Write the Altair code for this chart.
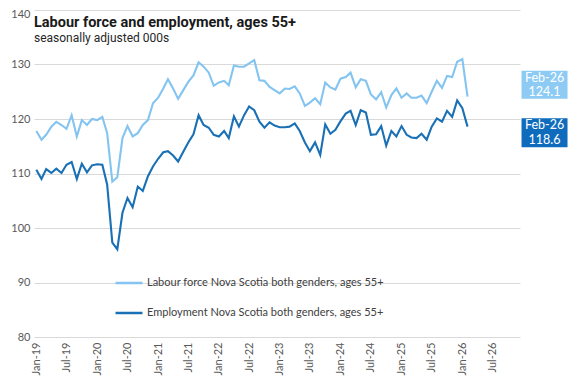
import altair as alt
import pandas as pd

# ---- data (monthly, Jan-2019 .. Feb-2026) ----
start_month = "2019-01-01"
series_names = ["Labour force Nova Scotia both genders, ages 55+",
                "Employment Nova Scotia both genders, ages 55+"]

labour_force = [
    117.8, 116.2, 117.1, 118.6, 119.5, 118.9, 118.2, 120.7, 116.8, 119.8, 118.9, 120.0,
    119.8, 120.4, 117.4, 108.5, 109.3, 116.5, 118.7, 116.8, 117.4, 118.9, 119.8, 122.9,
    123.9, 125.6, 127.3, 125.6, 123.7, 125.3, 126.8, 128.0, 130.4, 129.6, 128.5, 126.1,
    126.7, 127.0, 126.2, 129.8, 129.6, 129.6, 130.2, 130.8, 127.1, 127.0, 125.9, 125.3,
    124.7, 125.6, 125.5, 126.0, 124.7, 122.4, 123.0, 123.8, 122.7, 126.7, 125.8, 125.4,
    127.4, 127.7, 128.5, 125.8, 127.3, 127.0, 124.5, 123.6, 124.9, 122.1, 124.4, 125.6,
    123.9, 124.7, 123.9, 123.9, 124.3, 122.9, 125.0, 127.0, 125.7, 127.9, 127.7, 130.5,
    131.0, 124.1,
]
employment = [
    110.7, 109.0, 110.8, 110.1, 110.9, 110.1, 111.6, 112.1, 109.0, 111.8, 110.2, 111.5,
    111.7, 111.6, 108.0, 97.3, 96.1, 102.8, 105.5, 103.8, 107.6, 106.8, 109.5, 111.3,
    112.7, 113.9, 114.1, 113.3, 112.2, 114.0, 115.7, 117.2, 120.7, 118.9, 118.4, 117.1,
    116.8, 117.8, 116.5, 120.5, 118.6, 120.7, 122.3, 121.6, 119.5, 118.4, 119.4, 118.8,
    118.5, 118.5, 118.6, 119.2, 117.8, 115.7, 114.1, 115.7, 113.4, 119.0, 117.3, 118.0,
    119.6, 121.0, 121.5, 118.9, 121.6, 121.2, 117.1, 117.2, 118.7, 115.1, 117.8, 116.8,
    118.7, 117.1, 116.6, 116.5, 117.3, 116.2, 118.6, 120.1, 119.5, 121.5, 120.4, 123.4,
    122.0, 118.6,
]
y_ticks = [80, 90, 100, 110, 120, 130, 140]
x_tick_years = [2019, 2019, 2020, 2020, 2021, 2021, 2022, 2022, 2023, 2023,
                2024, 2024, 2025, 2025, 2026, 2026]
x_tick_months = [1, 7] * 8

LIGHT = "#83C4F0"
DARK = "#1A70B5"
LIGHT_BOX = "#8DCBF5"
DARK_BOX = "#0F6CBD"
FONT = "Lato"

dates = pd.date_range(start_month, periods=len(labour_force), freq="MS")
df = pd.concat([
    pd.DataFrame({"date": dates, "value": labour_force, "series": series_names[0]}),
    pd.DataFrame({"date": dates, "value": employment, "series": series_names[1]}),
])
last = pd.DataFrame({
    "date": [dates[-1], dates[-1]],
    "value": [labour_force[-1], employment[-1]],
    "series": series_names,
    "mon": [dates[-1].strftime("%b-%y")] * 2,
    "val": [f"{labour_force[-1]:.1f}", f"{employment[-1]:.1f}"],
})

x_scale = alt.Scale(domain=[alt.DateTime(year=2018, month=12, date=18),
                            alt.DateTime(year=2026, month=12, date=13)])
y_scale = alt.Scale(domain=[80, 140], nice=False, zero=False)

x_axis = alt.Axis(
    values=[alt.DateTime(year=y, month=m, date=1) for y, m in zip(x_tick_years, x_tick_months)],
    format="%b-%y", labelAngle=-90, labelAlign="right", labelBaseline="middle",
    labelPadding=5, ticks=False, domain=False, grid=False, title=None,
    labelOverlap=False, labelFont=FONT, labelFontSize=11, labelColor="#595959",
)
y_axis = alt.Axis(
    values=y_ticks, ticks=False, domain=False, grid=True, gridColor="#D9D9D9",
    gridWidth=1, labelPadding=4, labelFont=FONT, labelFontSize=11,
    labelColor="#595959", title=None,
    labelOffset={"condition": {"test": "datum.value == 140", "value": 4}, "value": 0},
)

color = alt.Color(
    "series:N",
    scale=alt.Scale(domain=series_names, range=[LIGHT, DARK]),
    legend=alt.Legend(
        orient="none", legendX=80, legendY=258, title=None,
        symbolType="stroke", symbolSize=729, symbolStrokeWidth=2.5,
        labelFont=FONT, labelFontSize=11, labelColor="#404040",
        labelOffset=3, rowPadding=10, labelLimit=0,
    ),
)

XE = alt.X("date:T", scale=x_scale, axis=x_axis)
YE = alt.Y("value:Q", scale=y_scale, axis=y_axis)

lines = alt.Chart(df).mark_line(strokeWidth=2.1).encode(x=XE, y=YE, color=color)

lf_last = last[last["series"] == series_names[0]]
em_last = last[last["series"] == series_names[1]]

def badge(d, fill, y0, y1, dy1, dy2):
    base = alt.Chart(d)
    box = base.mark_rect(color=fill, xOffset=54, x2Offset=100,
                         yOffset=y0, y2Offset=y1).encode(
        x=XE, x2="date:T", y=YE, y2="value:Q",
    )
    t1 = base.mark_text(color="white", font=FONT, fontSize=12.5, dx=77, dy=dy1).encode(
        x=XE, y=YE, text="mon:N")
    t2 = base.mark_text(color="white", font=FONT, fontSize=12.5, dx=77, dy=dy2).encode(
        x=XE, y=YE, text="val:N")
    return box + t1 + t2

title = alt.Chart(pd.DataFrame({"t": ["Labour force and employment, ages 55+"]})).mark_text(
    align="left", baseline="alphabetic", font="Roboto", fontWeight="bold",
    fontSize=14.5, color="#1A1A1A").encode(x=alt.value(0), y=alt.value(17), text="t:N")
subtitle = alt.Chart(pd.DataFrame({"t": ["seasonally adjusted 000s"]})).mark_text(
    align="left", baseline="alphabetic", font="Roboto", fontSize=12,
    color="#262626").encode(x=alt.value(0), y=alt.value(31.5), text="t:N")

chart = alt.layer(
    lines,
    badge(lf_last, LIGHT_BOX, -26, 2, -18.5, -4.2),
    badge(em_last, DARK_BOX, -8.5, 20.5, -1.5, 13.5),
    title, subtitle,
).properties(
    width=486, height=327,
    autosize=alt.AutoSizeParams(type="none"),
    padding={"left": 26, "top": 2, "right": 49, "bottom": 40},
    background="white",
).configure_view(stroke=None)

chart.save("out.html", embed_options={"renderer": "svg", "actions": False})
